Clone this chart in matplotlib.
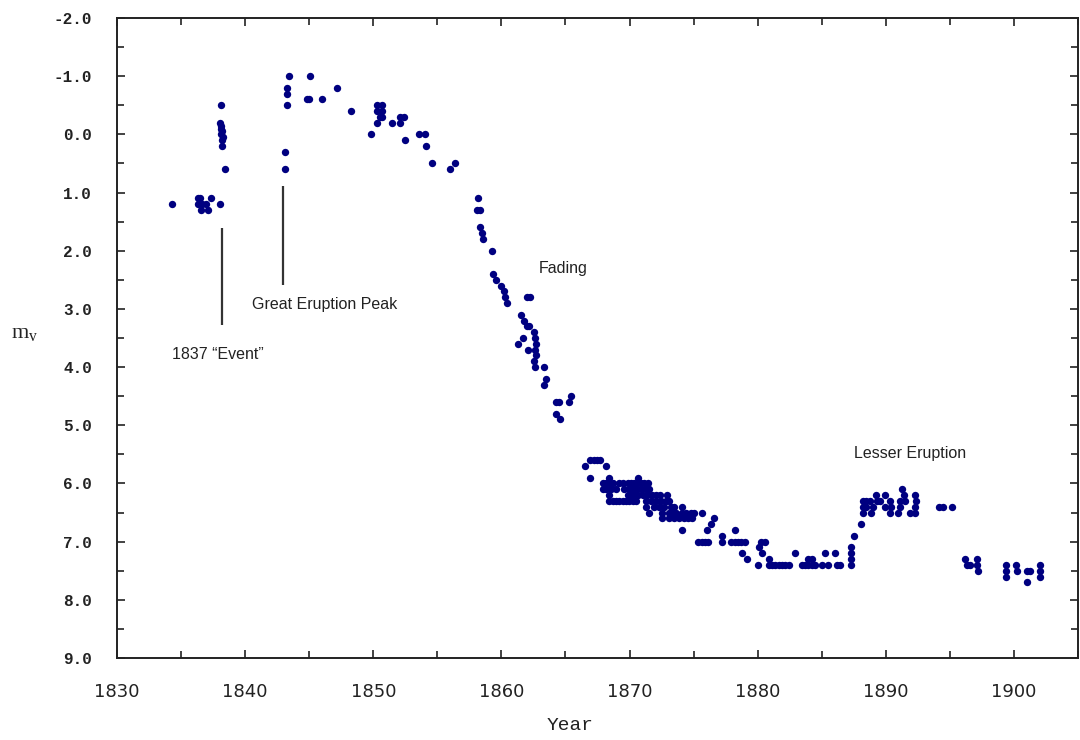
import matplotlib
matplotlib.use("Agg")
import matplotlib.pyplot as plt
from matplotlib.ticker import MultipleLocator, FormatStrFormatter

# ---- data (year, visual magnitude) ----
early_years = [1834.27, 1836.34, 1836.50, 1836.34, 1836.60, 1836.54, 1836.98, 1837.07, 1837.32, 1838.07,
               1838.10, 1838.05, 1838.15, 1838.10, 1838.20, 1838.15, 1838.30, 1838.20, 1838.20, 1838.40,
               1843.10, 1843.10, 1843.30, 1843.25, 1843.30, 1843.40,
               1845.06, 1844.80, 1845.00, 1845.97, 1847.16, 1848.30, 1849.85,
               1850.26, 1850.65, 1850.30, 1850.65, 1850.50, 1850.65, 1850.26,
               1851.45, 1852.10, 1852.40, 1852.10, 1852.44, 1853.55, 1854.07, 1854.15, 1854.60,
               1856.00, 1856.40]
early_mags = [1.2, 1.1, 1.1, 1.2, 1.2, 1.3, 1.2, 1.3, 1.1, 1.2,
              -0.5, -0.2, -0.15, -0.1, -0.05, 0.0, 0.05, 0.1, 0.2, 0.6,
              0.3, 0.6, -0.5, -0.7, -0.8, -1.0,
              -1.0, -0.6, -0.6, -0.6, -0.8, -0.4, 0.0,
              -0.5, -0.5, -0.4, -0.4, -0.3, -0.3, -0.2,
              -0.2, -0.3, -0.3, -0.2, 0.1, 0.0, 0.0, 0.2, 0.5,
              0.6, 0.5]

fade_years = [1858.20, 1858.08, 1858.30, 1858.30, 1858.47, 1858.55, 1859.25, 1859.37, 1859.60, 1860.00,
              1860.20, 1860.28, 1860.46, 1861.96, 1862.27, 1861.50, 1861.75, 1862.00, 1862.17, 1862.53,
              1861.65, 1861.30, 1862.60, 1862.70, 1862.10, 1862.60, 1862.70, 1862.53, 1862.60, 1863.30,
              1863.46, 1863.30, 1864.24, 1864.50, 1865.40, 1865.30, 1864.30, 1864.60]
fade_mags = [1.1, 1.3, 1.3, 1.6, 1.7, 1.8, 2.0, 2.4, 2.5, 2.6,
             2.7, 2.8, 2.9, 2.8, 2.8, 3.1, 3.2, 3.3, 3.3, 3.4,
             3.5, 3.6, 3.5, 3.6, 3.7, 3.7, 3.8, 3.9, 4.0, 4.0,
             4.2, 4.3, 4.6, 4.6, 4.5, 4.6, 4.8, 4.9]

# later plateau, listed by magnitude row
late_rows = {
    5.6: [1866.93, 1867.19, 1867.45, 1867.71],
    5.7: [1866.49, 1868.17],
    5.9: [1866.93, 1868.38, 1870.63],
    6.0: [1867.91, 1868.17, 1868.43, 1868.69, 1869.21, 1869.47, 1869.85, 1870.11, 1870.37, 1870.63,
          1870.89, 1871.15, 1871.41],
    6.1: [1867.91, 1868.17, 1868.56, 1868.95, 1869.60, 1869.98, 1870.24, 1870.50, 1870.89, 1871.28,
          1871.54, 1891.26],
    6.2: [1868.38, 1869.85, 1870.11, 1870.37, 1870.63, 1871.02, 1871.33, 1871.74, 1872.05, 1872.37,
          1872.96, 1889.26, 1889.91, 1891.41, 1892.29],
    6.3: [1868.38, 1868.69, 1868.95, 1869.21, 1869.47, 1869.73, 1869.98, 1870.24, 1870.50, 1871.28,
          1871.67, 1872.05, 1872.44, 1872.83, 1873.09,
          1888.23, 1888.49, 1888.75, 1889.34, 1889.52, 1890.30, 1891.08, 1891.47, 1892.37],
    6.4: [1871.28, 1871.93, 1872.31, 1872.70, 1873.22, 1873.48, 1874.12,
          1888.23, 1888.49, 1889.01, 1889.96, 1890.43, 1891.08, 1892.29, 1894.18, 1894.44, 1895.14],
    6.5: [1871.54, 1872.57, 1873.09, 1873.35, 1873.61, 1874.12, 1874.38, 1874.77, 1875.03, 1875.68,
          1888.23, 1888.88, 1890.30, 1890.95, 1891.85, 1892.29],
    6.6: [1872.57, 1873.09, 1873.48, 1873.87, 1874.25, 1874.59, 1874.90, 1876.58],
    6.7: [1876.32, 1888.05],
    6.8: [1874.12, 1876.01, 1878.21],
    6.9: [1877.23, 1887.53],
    7.0: [1875.37, 1875.63, 1875.88, 1876.14, 1877.23, 1877.95, 1878.21, 1878.47, 1878.73, 1878.99,
          1880.29, 1880.54],
    7.1: [1880.13, 1887.27],
    7.2: [1878.78, 1880.34, 1882.93, 1885.25, 1886.03, 1887.27],
    7.3: [1879.17, 1880.85, 1883.96, 1884.22, 1887.27, 1896.17, 1897.11],
    7.4: [1880.02, 1880.85, 1881.11, 1881.37, 1881.63, 1881.89, 1882.15, 1882.41, 1883.44, 1883.70,
          1883.96, 1884.22, 1884.48, 1884.99, 1885.51, 1886.16, 1886.42, 1887.27,
          1896.33, 1896.59, 1897.11, 1899.36, 1900.13, 1902.00],
    7.5: [1897.16, 1899.36, 1900.26, 1901.04, 1901.25, 1902.00],
    7.6: [1899.36, 1902.00],
    7.7: [1900.99],
}

x_ticks = [1830, 1840, 1850, 1860, 1870, 1880, 1890, 1900]
y_ticks = [-2.0, -1.0, 0.0, 1.0, 2.0, 3.0, 4.0, 5.0, 6.0, 7.0, 8.0, 9.0]

annotations = [("1837 \u201cEvent\u201d", 1834.3, 3.79),
               ("Great Eruption Peak", 1840.55, 2.92),
               ("Fading", 1862.9, 2.30),
               ("Lesser Eruption", 1887.5, 5.48)]
marker_lines = [(1838.23, 1.61, 3.28), (1842.97, 0.89, 2.59)]

# ---- figure ----
fig = plt.figure(figsize=(10.8, 7.4), dpi=100)
ax = fig.add_axes([117 / 1080, 82 / 740, (1078 - 117) / 1080, (658 - 18) / 740])

years = list(early_years) + list(fade_years)
mags = list(early_mags) + list(fade_mags)
for m, ys in late_rows.items():
    years += ys
    mags += [m] * len(ys)

ax.plot(years, mags, 'o', color='#000080', ms=5.3, mew=0, linestyle='none')

for x, y0, y1 in marker_lines:
    ax.plot([x, x], [y0, y1], color='#333333', lw=1.6, solid_capstyle='butt')

for txt, x, y in annotations:
    ax.text(x, y, txt, fontsize=11.5, family='Liberation Sans', color='#222222',
            ha='left', va='center')

ax.set_xlim(1830, 1905)
ax.set_ylim(9.0, -2.0)
ax.set_xticks(x_ticks)
ax.set_yticks(y_ticks)
ax.xaxis.set_minor_locator(MultipleLocator(5))
ax.yaxis.set_minor_locator(MultipleLocator(0.5))
ax.yaxis.set_major_formatter(FormatStrFormatter('%.1f'))

ax.tick_params(which='both', direction='in', top=True, right=True, color='#222222', width=1.2)
ax.tick_params(which='major', length=6)
ax.tick_params(which='minor', length=5)
ax.tick_params(axis='y', which='major', pad=18)
ax.tick_params(axis='x', which='major', pad=18)
for lab in ax.get_yticklabels():
    lab.set_fontfamily('Liberation Mono')
    lab.set_fontweight('bold')
    lab.set_fontsize(11.5)
    lab.set_color('#222222')
for lab in ax.get_xticklabels():
    lab.set_fontfamily('Liberation Sans Narrow')
    lab.set_fontsize(13)
    lab.set_color('#222222')

for sp in ax.spines.values():
    sp.set_linewidth(1.4)
    sp.set_color('#222222')

fig.text(570 / 1080, 1 - 725 / 740, 'Year', family='Liberation Mono', fontsize=14,
         ha='center', va='center', color='#222222')
fig.text(25 / 1080, 1 - 335 / 740, r'm$_{\mathregular{v}}$', family='Liberation Serif', fontsize=16,
         ha='center', va='center', color='#222222')

fig.savefig('out.png', dpi=100, facecolor='white')
